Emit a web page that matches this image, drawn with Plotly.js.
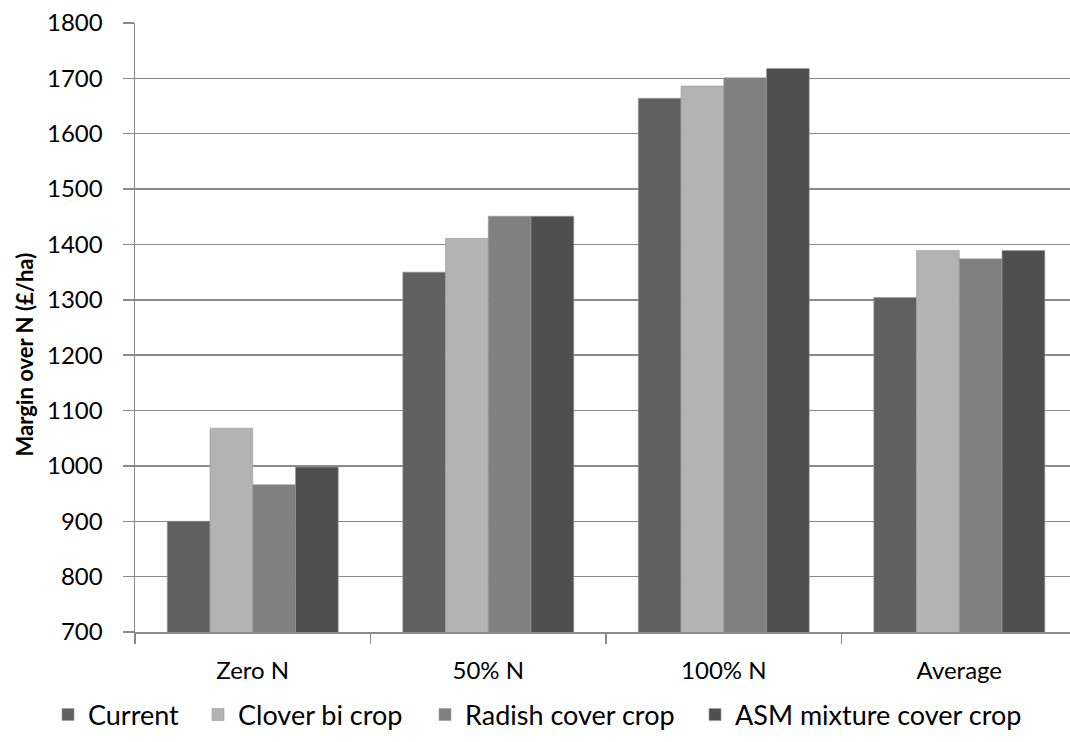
<!DOCTYPE html>
<html><head><meta charset="utf-8">
<script src="https://cdn.plot.ly/plotly-3.0.1.min.js"></script>
<style>html,body{margin:0;padding:0;overflow:hidden;background:#fff}</style>
</head><body>
<div id="chart" style="width:1070px;height:742px"></div>
<script>
const categories = ["Zero N", "50% N", "100% N", "Average"];
const seriesNames = ["Current", "Clover bi crop", "Radish cover crop", "ASM mixture cover crop"];
const current = [900, 1350, 1664, 1304];
const clover = [1068, 1411, 1686, 1389];
const radish = [966, 1451, 1701, 1374];
const asm = [998, 1451, 1718, 1389];
const yTicks = [700, 800, 900, 1000, 1100, 1200, 1300, 1400, 1500, 1600, 1700, 1800];
const yTitle = "Margin over N (£/ha)";
const colors = ["#606060", "#b3b3b3", "#808080", "#4f4f4f"];
const values = [current, clover, radish, asm];
const legendIds = ["legend", "legend2", "legend3", "legend4"];
const legendTextStart = [88, 238, 465, 735];

const FONT = "Lato, 'Open Sans', sans-serif";
const W = 1070, H = 742, L = 135, T = 23, B = 110;
const traces = values.map((v, i) => ({
  type: "bar", name: seriesNames[i], x: categories, y: v, legend: legendIds[i],
  marker: {color: colors[i], line: {width: 0.6, color: "#9a9a9a"}},
  hoverinfo: "x+y+name"
}));

const layout = {
  width: W, height: H,
  margin: {l: L, r: 0, t: T, b: B},
  paper_bgcolor: "#fff", plot_bgcolor: "#fff",
  font: {family: FONT, size: 24, color: "#000"},
  barmode: "group", bargap: 0.274, bargroupgap: 0,
  showlegend: true,
  xaxis: {
    type: "category", range: [-0.5, 3.47], tickson: "boundaries",
    ticks: "outside", ticklen: 10, tickcolor: "#8a8a8a", tickwidth: 1.5,
    showline: true, linecolor: "#8a8a8a", linewidth: 1.5,
    showgrid: false, ticklabelstandoff: 17,
    tickfont: {family: FONT, size: 24, color: "#000"}
  },
  yaxis: {
    range: [700, 1800], tickvals: yTicks, ticktext: yTicks.map(String),
    ticks: "outside", ticklen: 11, tickcolor: "#8a8a8a", tickwidth: 1.5,
    showline: true, linecolor: "#8a8a8a", linewidth: 1.5,
    showgrid: true, gridcolor: "#8a8a8a", gridwidth: 1.5, zeroline: false,
    ticklabelstandoff: 15,
    tickfont: {family: FONT, size: 24, color: "#000"}
  },
  annotations: [{
    text: "<b>" + yTitle + "</b>", textangle: -90, showarrow: false,
    xref: "paper", yref: "paper", x: (24 - L) / (W - L), y: 0.5, yshift: -27,
    xanchor: "center", yanchor: "middle",
    font: {family: FONT, size: 22, color: "#000", weight: "bold"}
  }]
};
legendIds.forEach((id, i) => {
  layout[id] = {
    orientation: "h", xref: "container", yref: "container",
    x: (legendTextStart[i] - 40) / W, xanchor: "left",
    y: 1 - 715 / H, yanchor: "middle",
    font: {family: FONT, size: 27, color: "#000"},
    bgcolor: "rgba(0,0,0,0)", borderwidth: 0, itemwidth: 30
  };
});
Plotly.newPlot("chart", traces, layout, {displayModeBar: false, staticPlot: true});
</script>
</body></html>
